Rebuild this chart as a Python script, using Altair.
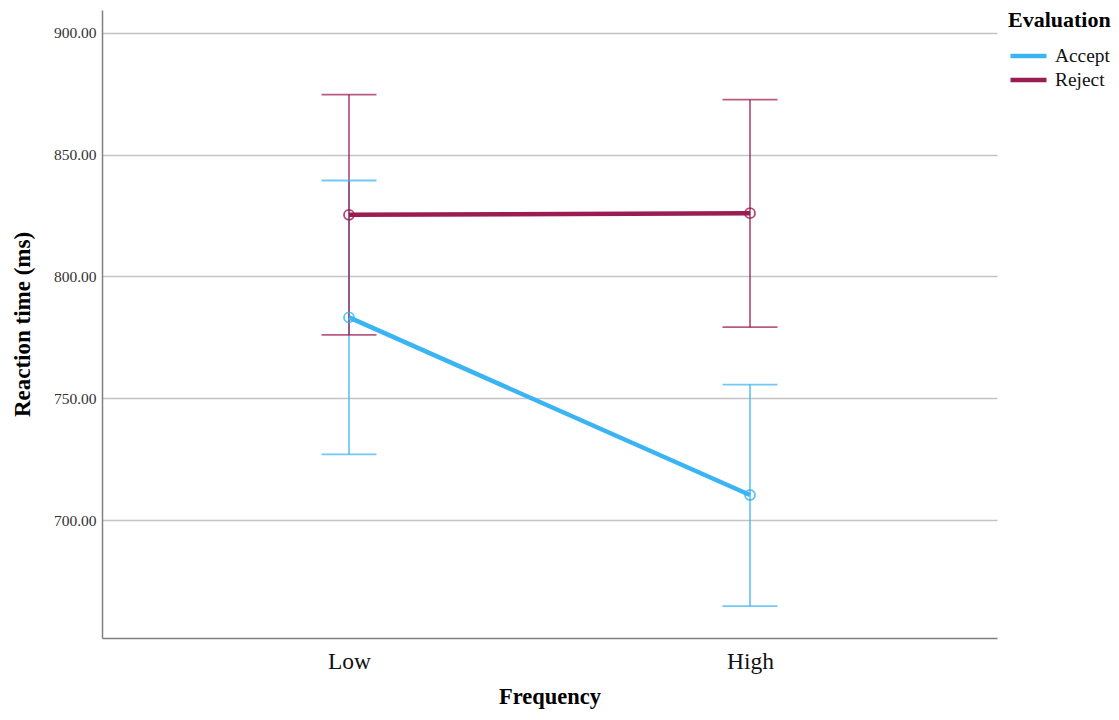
import altair as alt
import pandas as pd

frequency = ["Low", "High", "Low", "High"]
evaluation = ["Accept", "Accept", "Reject", "Reject"]
mean_rt = [783.2, 710.3, 825.3, 826.0]
ci_low = [727.0, 664.7, 776.0, 779.2]
ci_high = [839.4, 755.6, 874.7, 872.6]

y_ticks = [700, 750, 800, 850, 900]
colors = ["#3AB4F2", "#9B1C50"]

df = pd.DataFrame({
    "Frequency": frequency,
    "Evaluation": evaluation,
    "mean": mean_rt,
    "lo": ci_low,
    "hi": ci_high,
})

FONT = "Liberation Serif"

x_enc = alt.X(
    "Frequency:N",
    sort=["Low", "High"],
    scale=alt.Scale(type="point", padding=0.616),
    axis=alt.Axis(
        title="Frequency", labelAngle=0, labelFontSize=23.5, labelColor="#111",
        labelFont=FONT, titleFont=FONT, titleFontSize=22.5, titleFontWeight="bold",
        titleColor="#000", ticks=False, labelPadding=11, titlePadding=13,
        domainColor="#808080", domainWidth=1.5, grid=False,
    ),
)
y_scale = alt.Scale(domain=[651.6, 909.4], nice=False, zero=False)
color_enc = alt.Color(
    "Evaluation:N",
    scale=alt.Scale(domain=["Accept", "Reject"], range=colors),
    legend=alt.Legend(
        title="Evaluation", titleFont=FONT, titleFontSize=22, titleFontWeight="bold",
        titleColor="#000", labelFont=FONT, labelFontSize=19.4, labelColor="#111",
        symbolType="stroke", symbolSize=1296, symbolStrokeWidth=4.5, symbolOpacity=1,
        clipHeight=20, orient="right", offset=11, rowPadding=4, titlePadding=14,
        labelOffset=6,
    ),
)

base = alt.Chart(df)

rules = base.mark_rule(strokeWidth=1.8, opacity=0.72).encode(
    x=x_enc,
    y=alt.Y("lo:Q", scale=y_scale),
    y2="hi:Q",
    color=color_enc,
)
caps_lo = base.mark_tick(size=55, thickness=1.8, opacity=0.72).encode(
    x=x_enc,
    y=alt.Y("lo:Q", scale=y_scale),
    color=color_enc,
)
caps_hi = base.mark_tick(size=55, thickness=1.8, opacity=0.72).encode(
    x=x_enc,
    y=alt.Y("hi:Q", scale=y_scale),
    color=color_enc,
)
lines = base.mark_line(strokeWidth=4.5).encode(
    x=x_enc,
    y=alt.Y(
        "mean:Q", scale=y_scale,
        axis=alt.Axis(
            title="Reaction time (ms)", values=y_ticks, format=".2f",
            labelFont=FONT, labelFontSize=15.5, labelColor="#333",
            titleFont=FONT, titleFontSize=23, titleFontWeight="bold", titleColor="#000",
            ticks=False, labelPadding=6, titlePadding=19,
            domainColor="#808080", domainWidth=1.5,
            grid=True, gridColor="#C4C4C4", gridWidth=1.5,
        ),
    ),
    color=color_enc,
)
points = base.mark_point(shape="circle", filled=False, size=100, strokeWidth=1.8, opacity=0.8).encode(
    x=x_enc,
    y=alt.Y("mean:Q", scale=y_scale),
    color=color_enc,
)

chart = alt.layer(rules, caps_lo, caps_hi, lines, points).properties(
    width=895, height=628,
    background="white",
    autosize=alt.AutoSizeParams(type="none"),
    padding={"left": 94, "top": 2, "right": 114, "bottom": 74},
).configure_view(strokeWidth=0)

chart.save("out.html", embed_options={"renderer": "svg", "actions": False})
